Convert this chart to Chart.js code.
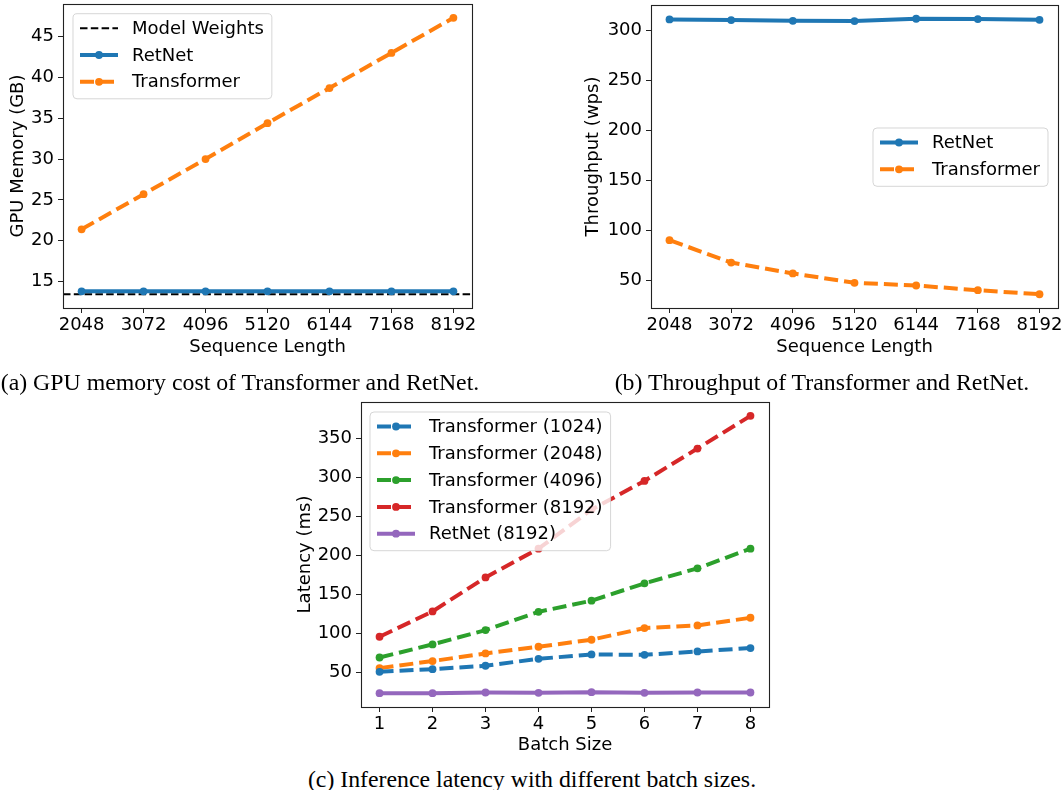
<!DOCTYPE html>
<html>
<head>
<meta charset="utf-8">
<script src="https://cdn.jsdelivr.net/npm/chart.js@4.4.1/dist/chart.umd.min.js"></script>
<style>
body{margin:0;background:#fff;width:1062px;height:790px;position:relative;overflow:hidden}
canvas{position:absolute}
.cap{position:absolute;font-family:"Liberation Serif","Times New Roman",serif;font-size:23.8px;line-height:1;white-space:nowrap;transform:translate(-50%,-50%);color:#000}
</style>
</head>
<body>
<canvas id="memChart" width="480" height="358" style="left:0;top:0"></canvas>
<canvas id="tputChart" width="487" height="358" style="left:575px;top:0"></canvas>
<canvas id="latChart" width="490" height="361" style="left:287px;top:395px"></canvas>
<div class="cap" style="left:240px;top:383px">(a) GPU memory cost of Transformer and RetNet.</div>
<div class="cap" style="left:822px;top:383px">(b) Throughput of Transformer and RetNet.</div>
<div class="cap" style="left:532px;top:780px">(c) Inference latency with different batch sizes.</div>
<script>
// data
const SEQ_LEN=[2048,3072,4096,5120,6144,7168,8192];
const MEM_RETNET=[13.8,13.8,13.8,13.8,13.8,13.8,13.8];
const MEM_TRANSFORMER=[21.4,25.7,30.0,34.4,38.7,43.0,47.3];
const MODEL_WEIGHTS=13.45;
const MEM_TICKS=[15,20,25,30,35,40,45];

const TPUT_RETNET=[310.6,310.0,309.3,309.0,311.3,311.0,310.3];
const TPUT_TRANSFORMER=[90.5,68.2,57.3,48.0,45.3,40.6,36.6];
const TPUT_TICKS=[50,100,150,200,250,300];

const BATCH=[1,2,3,4,5,6,7,8];
const LAT_T1024=[51.3,54.7,59.0,67.9,73.5,73.0,77.3,81.6];
const LAT_T2048=[56.0,65.0,74.8,83.3,92.3,107.2,110.6,120.4];
const LAT_T4096=[69.6,86.3,104.6,128.0,142.2,164.4,183.6,208.8];
const LAT_T8192=[96.1,128.5,172.0,208.8,258.7,295.4,336.8,378.6];
const LAT_RETNET=[24.0,24.0,24.8,24.4,25.2,24.4,24.8,24.8];
const LAT_TICKS=[50,100,150,200,250,300,350];

const BLUE="#1f77b4",ORANGE="#ff7f0e",GREEN="#2ca02c",RED="#d62728",PURPLE="#9467bd";
const FONT="'DejaVu Sans', sans-serif";
const FS=18;
const LW=4;
const DASH=[14,6];

function pts(xs,ys){return xs.map((x,i)=>({x,y:ys[i]}));}

function margin(vals){
 const lo=Math.min(...vals),hi=Math.max(...vals),d=(hi-lo)*0.05;
 return [lo-d,hi+d];
}

function series(label,xs,ys,color,dashed){
 return {
  label,data:pts(xs,ys),
  borderColor:color,backgroundColor:color,
  borderWidth:LW,borderDash:dashed?DASH:[],
  pointRadius:3.9,pointHoverRadius:3.9,pointBorderWidth:0,
  pointBackgroundColor:color,tension:0,fill:false
 };
}

/* spines on all four sides */
const frame={
 id:"frame",
 afterDatasetsDraw(chart){
  const a=chart.chartArea,ctx=chart.ctx;
  ctx.save();
  ctx.strokeStyle="#222";ctx.lineWidth=1.1;
  ctx.strokeRect(Math.round(a.left)+0.5,Math.round(a.top)+0.5,Math.round(a.right-a.left),Math.round(a.bottom-a.top));
  ctx.restore();
 }
};

/* horizontal reference line (axhline) */
const hline={
 id:"hline",
 beforeDatasetsDraw(chart,args,o){
  if(o.value==null)return;
  const a=chart.chartArea,ctx=chart.ctx;
  const y=chart.scales.y.getPixelForValue(o.value);
  ctx.save();
  ctx.beginPath();ctx.rect(a.left,a.top,a.right-a.left,a.bottom-a.top);ctx.clip();
  ctx.strokeStyle="#000";ctx.lineWidth=2;ctx.setLineDash([7.5,3.3]);
  ctx.beginPath();ctx.moveTo(a.left,y);ctx.lineTo(a.right,y);ctx.stroke();
  ctx.restore();
 }
};

/* matplotlib style legend */
const mplLegend={
 id:"mplLegend",
 afterDraw(chart,args,o){
  if(!o.x)return;
  const ctx=chart.ctx;
  const items=(o.extra||[]).concat(chart.data.datasets.map(d=>({
   label:d.label,color:d.borderColor,dash:d.borderDash,width:d.borderWidth,marker:true
  })));
  ctx.save();
  ctx.font=FS+"px "+FONT;
  const tw=Math.max(...items.map(i=>ctx.measureText(i.label).width));
  const rh=26.8,w=59+tw+8,h=14.5+(items.length-1)*rh+17;
  const x=o.x,y=o.y,r=4;
  ctx.beginPath();
  ctx.moveTo(x+r,y);ctx.lineTo(x+w-r,y);ctx.arcTo(x+w,y,x+w,y+r,r);
  ctx.lineTo(x+w,y+h-r);ctx.arcTo(x+w,y+h,x+w-r,y+h,r);
  ctx.lineTo(x+r,y+h);ctx.arcTo(x,y+h,x,y+h-r,r);
  ctx.lineTo(x,y+r);ctx.arcTo(x,y,x+r,y,r);ctx.closePath();
  ctx.fillStyle="rgba(255,255,255,0.8)";ctx.fill();
  ctx.strokeStyle="rgba(204,204,204,0.8)";ctx.lineWidth=1;ctx.stroke();
  items.forEach((it,i)=>{
   const cy=y+14.5+i*rh;
   ctx.strokeStyle=it.color;ctx.lineWidth=it.width;ctx.setLineDash(it.dash||[]);
   ctx.beginPath();ctx.moveTo(x+7,cy);ctx.lineTo(x+45,cy);ctx.stroke();
   ctx.setLineDash([]);
   if(it.marker){ctx.fillStyle=it.color;ctx.beginPath();ctx.arc(x+26,cy,3.9,0,Math.PI*2);ctx.fill();}
   ctx.fillStyle="#000";ctx.textBaseline="middle";ctx.textAlign="left";
   ctx.fillText(it.label,x+59,cy+1);
  });
  ctx.restore();
 }
};

function axis(range,ticks,title,fixed,horizontal){
 return {
  type:"linear",min:range[0],max:range[1],
  afterBuildTicks:s=>{s.ticks=ticks.map(v=>({value:v}));},
  afterFit:s=>{
   if(horizontal){s.height=fixed;s.paddingLeft=0;s.paddingRight=0;}
   else{s.width=fixed;s.paddingTop=0;s.paddingBottom=0;}
  },
  grid:{drawOnChartArea:false,drawTicks:true,tickLength:5,color:"#222",tickWidth:1},
  border:{display:true,color:"#222",width:1},
  ticks:{color:"#000",font:{family:FONT,size:FS},padding:horizontal?2:4,maxRotation:0,autoSkip:false,callback:v=>String(v)},
  title:{display:true,text:title,color:"#000",font:{family:FONT,size:FS},padding:horizontal?{top:0,bottom:0}:{top:7.2,bottom:0}}
 };
}

function baseOptions(padding,x,y,legend,extra){
 return {
  responsive:false,animation:false,
  layout:{padding},
  scales:{x,y},
  plugins:{legend:{display:false},tooltip:{enabled:false},mplLegend:legend,hline:extra||{}}
 };
}

// (a) GPU memory
new Chart(document.getElementById("memChart"),{
 type:"line",
 data:{datasets:[
  series("RetNet",SEQ_LEN,MEM_RETNET,BLUE,false),
  series("Transformer",SEQ_LEN,MEM_TRANSFORMER,ORANGE,true)
 ]},
 options:baseOptions({top:4,right:8,left:0,bottom:0},
  axis(margin(SEQ_LEN),SEQ_LEN,"Sequence Length",50,true),
  axis(margin(MEM_RETNET.concat(MEM_TRANSFORMER,[MODEL_WEIGHTS])),MEM_TICKS,"GPU Memory (GB)",63,false),
  {x:73,y:13.7,extra:[{label:"Model Weights",color:"#000",dash:[7.5,3.3],width:2,marker:false}]},
  {value:MODEL_WEIGHTS}),
 plugins:[hline,frame,mplLegend]
});

// (b) throughput
new Chart(document.getElementById("tputChart"),{
 type:"line",
 data:{datasets:[
  series("RetNet",SEQ_LEN,TPUT_RETNET,BLUE,false),
  series("Transformer",SEQ_LEN,TPUT_TRANSFORMER,ORANGE,true)
 ]},
 options:baseOptions({top:5,right:4,left:0,bottom:0},
  axis(margin(SEQ_LEN),SEQ_LEN,"Sequence Length",50,true),
  axis(margin(TPUT_RETNET.concat(TPUT_TRANSFORMER)),TPUT_TICKS,"Throughput (wps)",76,false),
  {x:298,y:128}),
 plugins:[frame,mplLegend]
});

// (c) latency
new Chart(document.getElementById("latChart"),{
 type:"line",
 data:{datasets:[
  series("Transformer (1024)",BATCH,LAT_T1024,BLUE,true),
  series("Transformer (2048)",BATCH,LAT_T2048,ORANGE,true),
  series("Transformer (4096)",BATCH,LAT_T4096,GREEN,true),
  series("Transformer (8192)",BATCH,LAT_T8192,RED,true),
  series("RetNet (8192)",BATCH,LAT_RETNET,PURPLE,false)
 ]},
 options:baseOptions({top:7,right:8,left:0,bottom:0},
  axis(margin(BATCH),BATCH,"Batch Size",49,true),
  axis(margin(LAT_T1024.concat(LAT_T2048,LAT_T4096,LAT_T8192,LAT_RETNET)),LAT_TICKS,"Latency (ms)",74,false),
  {x:83,y:17}),
 plugins:[frame,mplLegend]
});
</script>
</body>
</html>
